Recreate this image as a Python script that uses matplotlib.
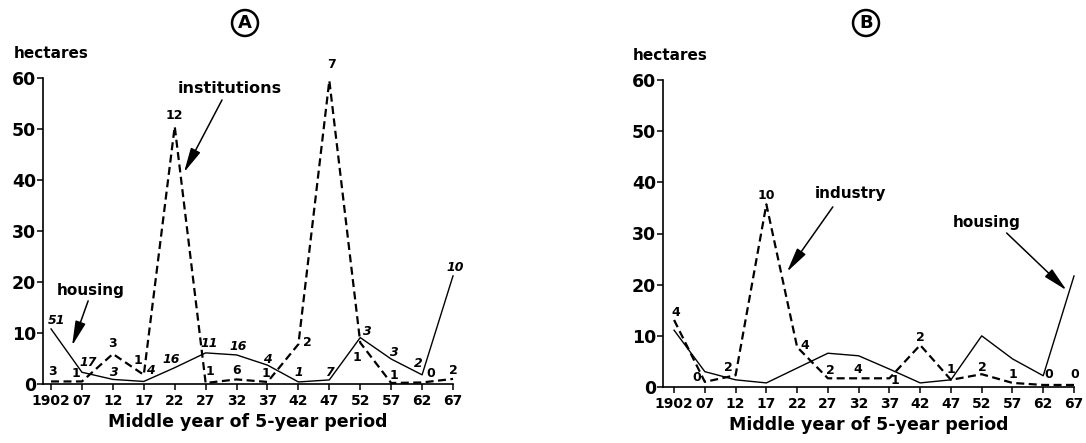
"""Land taken per 5-year period: (A) housing vs institutions, (B) housing vs industry."""
import matplotlib
matplotlib.use('Agg')
import matplotlib.pyplot as plt
import numpy as np

plt.rcParams['font.family'] = 'DejaVu Sans'
plt.rcParams['font.weight'] = 'bold'

years = ['1902', '07', '12', '17', '22', '27', '32', '37', '42', '47', '52', '57', '62', '67']

# panel A (hectares) and number of schemes per period
a_housing = [10.8, 2.3, 0.9, 0.5, 3.2, 6.1, 5.7, 3.7, 0.4, 0.8, 9.1, 4.9, 1.8, 21.2]
a_inst = [0.5, 0.5, 5.9, 1.8, 50.5, 0.2, 0.9, 0.4, 7.8, 59.5, 8.1, 0.2, 0.3, 1.0]
a_housing_n = ['51', '17', '3', '4', '16', '11', '16', '4', '1', '7', '3', '3', '2', '10']
a_inst_n = ['3', '1', '3', '1', '12', '1', '6', '1', '2', '7', '1', '1', '0', '2']

# panel B
b_housing = [11.1, 3.0, 1.4, 0.8, 3.7, 6.6, 6.1, 3.5, 0.8, 1.4, 10.0, 5.5, 2.2, 21.7]
b_industry = [13.1, 1.0, 2.3, 35.7, 7.8, 1.7, 1.7, 1.7, 8.2, 1.4, 2.5, 0.8, 0.4, 0.4]
b_industry_n = ['4', '0', '2', '10', '4', '2', '4', '1', '2', '1', '2', '1', '0', '0']

W, H = 1086, 443
fig = plt.figure(figsize=(W / 100, H / 100), dpi=100)

def px(x0, y0, x1, y1):
    # axes rect from pixel box (top-left origin)
    return [x0 / W, 1 - y1 / H, (x1 - x0) / W, (y1 - y0) / H]

axA = fig.add_axes(px(43, 78, 453, 384))
axB = fig.add_axes(px(663, 80, 1074, 387))
axA.set_xlim(-0.26, 13)
axB.set_xlim(-0.36, 13)

x = np.arange(len(years))
DASH = dict(color='black', lw=1.6, dashes=(3.6, 2.0), clip_on=False)
SOLID = dict(color='black', lw=1.0, clip_on=False)

for ax in (axA, axB):
    ax.set_ylim(0, 60)
    ax.set_yticks(range(0, 61, 10))
    ax.set_xticks(x)
    ax.set_xticklabels(years, fontsize=10, fontweight='bold')
    ax.tick_params(axis='y', direction='out', length=4, width=1.1, pad=1, labelsize=12.5)
    ax.tick_params(axis='x', direction='out', length=4, width=1.1, pad=3)
    for s in ('top', 'right'):
        ax.spines[s].set_visible(False)
    for s in ('left', 'bottom'):
        ax.spines[s].set_linewidth(1.2)
    ax.set_xlabel('Middle year of 5-year period', fontsize=12.5, fontweight='bold', labelpad=4)
    ax.patch.set_alpha(0)

def labels(ax, ys, txt, offs, style='normal'):
    for i, (y, t) in enumerate(zip(ys, txt)):
        dx, dy = offs[i]
        ax.annotate(t, (x[i], y), xytext=(dx, dy), textcoords='offset pixels',
                    ha='center', va='center', fontsize=9, style=style,
                    annotation_clip=False)

# ---- panel A ----
axA.plot(x, a_housing, **SOLID)
axA.plot(x, a_inst, **DASH)
labels(axA, a_housing, a_housing_n,
       [(6, 8), (6, 10), (1, 7), (7, 11), (-4, 8), (4, 9), (2, 8), (0, 6),
        (0, 9), (0, 7), (7, 6), (3, 7), (-4, 11), (2, 8)], style='italic')
labels(axA, a_inst, a_inst_n,
       [(1, 10), (-6, 8), (0, 10), (-6, 14), (0, 11), (4, 11), (0, 9), (-2, 8),
        (9, 2), (2, 16), (-3, -15), (3, 7), (9, 9), (0, 8)])

ARROW = dict(arrowstyle='-|>,head_length=0.75,head_width=0.16', color='black',
             lw=1.1, mutation_scale=20, shrinkA=0, shrinkB=0)
axA.text(5.77, 57.9, 'institutions', ha='center', va='center', fontsize=11.5)
axA.annotate('', xy=(4.3, 41.5), xytext=(5.53, 55.7), arrowprops=ARROW)
axA.text(1.29, 18.3, 'housing', ha='center', va='center', fontsize=11)
axA.annotate('', xy=(0.68, 7.5), xytext=(1.2, 16.3), arrowprops=ARROW)

# ---- panel B ----
axB.plot(x, b_housing, **SOLID)
axB.plot(x, b_industry, **DASH)
labels(axB, b_industry, b_industry_n,
       [(2, 7), (-8, 4), (-7, 8), (0, 9), (8, 2), (2, 8), (-1, 9), (6, -2),
        (0, 8), (0, 10), (1, 7), (0, 8), (6, 10), (1, 10)])
axB.text(5.75, 37.9, 'industry', ha='center', va='center', fontsize=11)
axB.annotate('', xy=(3.67, 22.5), xytext=(5.16, 35.2), arrowprops=ARROW)
axB.text(10.16, 32.2, 'housing', ha='center', va='center', fontsize=11)
axB.annotate('', xy=(12.76, 18.9), xytext=(10.81, 30.1), arrowprops=ARROW)

# titles / units
fig.text(51 / W, 1 - 53 / H, 'hectares', ha='center', va='center', fontsize=11)
fig.text(670 / W, 1 - 55 / H, 'hectares', ha='center', va='center', fontsize=11)
for cx, letter in ((245, 'A'), (866, 'B')):
    fig.text(cx / W, 1 - 23 / H, letter, ha='center', va='center', fontsize=13,
             bbox=dict(boxstyle='circle,pad=0.22', fc='white', ec='black', lw=1.8))

fig.savefig('out.png', dpi=100, facecolor='white')
